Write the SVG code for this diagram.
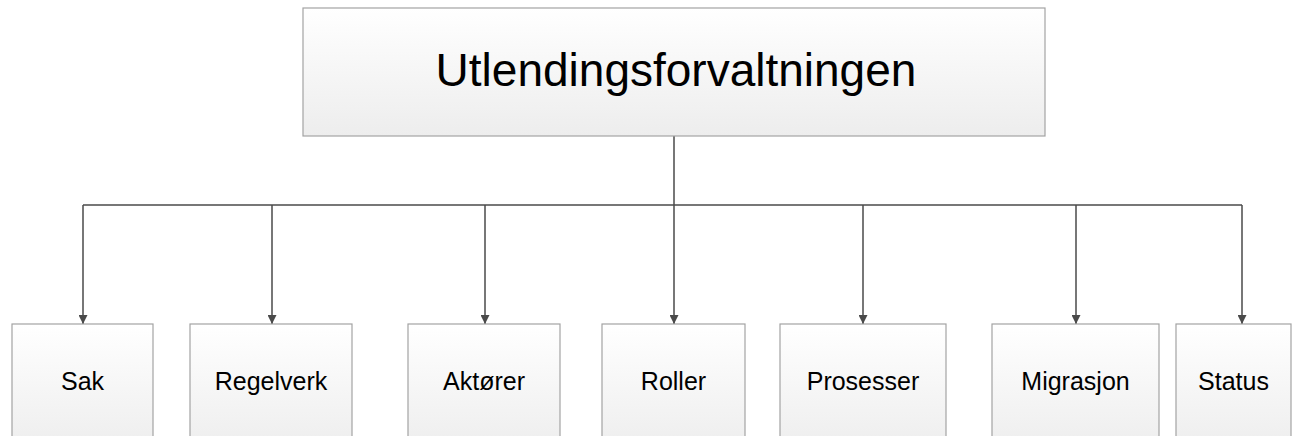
<svg xmlns="http://www.w3.org/2000/svg" width="1292" height="436" viewBox="0 0 1292 436">
<style>
.box{fill:url(#g);stroke:#a3a3a3;stroke-width:1.2}
.lbl{font-family:"Liberation Sans",Arial,sans-serif;font-size:25px;fill:#000;text-anchor:middle}
.title{font-family:"Liberation Sans",Arial,sans-serif;font-size:46px;fill:#000;text-anchor:middle}
.c{fill:none;stroke:#4a4a4a;stroke-width:1.5}
</style>
<defs>
<linearGradient id="g" x1="0" y1="0" x2="0" y2="1">
<stop offset="0" stop-color="#ffffff"/>
<stop offset="1" stop-color="#ededed"/>
</linearGradient>
<marker id="arr" viewBox="0 0 10 10" refX="10" refY="5" markerWidth="9" markerHeight="9" markerUnits="userSpaceOnUse" orient="auto">
<path d="M0,0 L10,5 L0,10 z" fill="#4a4a4a"/>
</marker>
</defs>
<g id="connectors">
<path class="c" d="M674,136 V205"/>
<path class="c" d="M83,205 H1242"/>
<path class="c" d="M83,205 V324" marker-end="url(#arr)"/>
<path class="c" d="M272,205 V324" marker-end="url(#arr)"/>
<path class="c" d="M485,205 V324" marker-end="url(#arr)"/>
<path class="c" d="M674,205 V324" marker-end="url(#arr)"/>
<path class="c" d="M863,205 V324" marker-end="url(#arr)"/>
<path class="c" d="M1076,205 V324" marker-end="url(#arr)"/>
<path class="c" d="M1242,205 V324" marker-end="url(#arr)"/>
</g>
<g id="root"><rect class="box" x="303" y="8" width="742" height="128"/><text class="title" x="676" y="86">Utlendingsforvaltningen</text></g>
<g id="sak"><rect class="box" x="12" y="324" width="141" height="130"/><text class="lbl" x="82.5" y="390">Sak</text></g>
<g id="regelverk"><rect class="box" x="190" y="324" width="162" height="130"/><text class="lbl" x="271" y="390">Regelverk</text></g>
<g id="aktorer"><rect class="box" x="408" y="324" width="152" height="130"/><text class="lbl" x="484" y="390">Aktører</text></g>
<g id="roller"><rect class="box" x="602" y="324" width="143" height="130"/><text class="lbl" x="673.5" y="390">Roller</text></g>
<g id="prosesser"><rect class="box" x="780" y="324" width="166" height="130"/><text class="lbl" x="863" y="390">Prosesser</text></g>
<g id="migrasjon"><rect class="box" x="992" y="324" width="167" height="130"/><text class="lbl" x="1075.5" y="390">Migrasjon</text></g>
<g id="status"><rect class="box" x="1176" y="324" width="115" height="130"/><text class="lbl" x="1233.5" y="390">Status</text></g>
</svg>
